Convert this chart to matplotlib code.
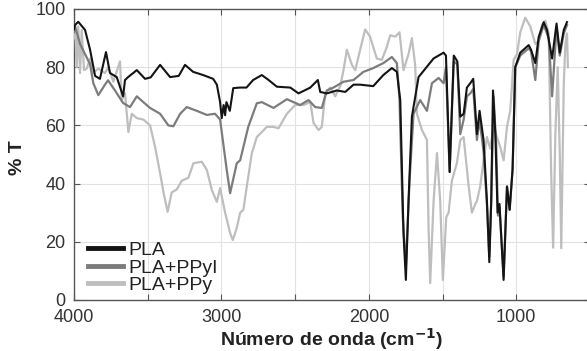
import numpy as np
import matplotlib
matplotlib.use("Agg")
import matplotlib.pyplot as plt
from matplotlib.ticker import MultipleLocator

plt.rcParams["font.family"] = ["Liberation Sans", "DejaVu Sans"]

wn_pla = [4000, 3993, 3971, 3925, 3891, 3857, 3824, 3783, 3756, 3710, 3667, 3654,
          3633, 3574, 3518, 3480, 3416, 3348, 3290, 3247, 3192, 3124, 3056, 3031,
          3009, 2998, 2985, 2975, 2966, 2943, 2920, 2875, 2830, 2785, 2726, 2680,
          2624, 2533, 2477, 2397, 2346, 2330, 2285, 2217, 2160, 2104, 2059, 1970,
          1902, 1844, 1810, 1787, 1765, 1749, 1731, 1708, 1663, 1561, 1493, 1477,
          1452, 1424, 1400, 1380, 1357, 1335, 1312, 1292, 1267, 1249, 1222, 1199,
          1183, 1170, 1158, 1142, 1127, 1114, 1086, 1063, 1045, 1025, 1007, 973,
          916, 900, 871, 848, 814, 791, 757, 727, 705, 678, 656]
t_pla = [93, 94.5, 95.6, 92.8, 86, 77, 76, 85.2, 78, 76.6, 70, 75.6,
         76.6, 79, 76, 76.5, 80.8, 76.6, 77, 80.8, 78.4, 77.3, 76, 74,
         68, 62.5, 67, 63.5, 68, 65, 72.8, 73, 73, 75.6, 77.3, 75.6,
         73.3, 73, 71, 73, 75.6, 71.5, 71, 72, 71.5, 74, 74, 73.5,
         77.3, 79.7, 78.4, 68.7, 23, 6.9, 34, 63, 76.6, 83, 85, 84,
         44, 84, 82, 63, 64, 73, 74.5, 76, 57, 65, 55, 34,
         13, 34, 72, 57, 30, 33, 6.9, 39, 31, 45, 80, 85,
         87.6, 86, 81.4, 90.4, 95.5, 92.7, 83, 95, 85, 92.8, 95.5]

wn_ppyi = [4000, 3993, 3959, 3891, 3869, 3835, 3790, 3769, 3722, 3667, 3620, 3574,
           3530, 3484, 3416, 3360, 3326, 3280, 3235, 3167, 3099, 3043, 3009, 2964,
           2941, 2896, 2873, 2818, 2760, 2726, 2647, 2556, 2466, 2409, 2364, 2319,
           2285, 2240, 2172, 2104, 2037, 1970, 1902, 1844, 1810, 1792, 1770, 1749,
           1724, 1697, 1652, 1606, 1572, 1527, 1493, 1477, 1452, 1424, 1400, 1380,
           1357, 1335, 1312, 1292, 1267, 1249, 1222, 1199, 1183, 1170, 1154, 1136,
           1124, 1114, 1086, 1063, 1045, 1025, 1007, 973, 916, 900, 871, 848,
           814, 780, 757, 727, 705, 678, 656]
t_ppyi = [92, 94, 88, 81, 74.5, 70.4, 74, 75.5, 72, 67.7, 66.3, 70,
          68, 66, 64, 60, 59.7, 64, 66.3, 65, 63.6, 64, 62, 44.7,
          36.7, 47, 48, 59.5, 67.6, 68, 66, 69, 67, 68.7, 66.3, 66,
          72, 73, 75, 75.6, 78.4, 79.7, 81.4, 83.5, 81.4, 68.7, 28.5, 11.4,
          41, 64, 68.7, 65, 74.5, 76.3, 74.5, 80, 44, 82, 81, 57,
          62, 70, 71, 72.5, 55, 62, 51, 32.6, 15, 34, 70, 53,
          29, 32, 8, 39, 31, 45, 80, 84, 86.5, 85.5, 75.6, 89,
          94.5, 90, 70, 93.6, 84, 91.6, 94.5]

wn_ppy = [4000, 3993, 3982, 3971, 3959, 3948, 3932, 3914, 3891, 3873, 3835, 3790,
          3767, 3733, 3688, 3676, 3654, 3631, 3608, 3574, 3529, 3484, 3450, 3416,
          3393, 3365, 3337, 3303, 3269, 3224, 3190, 3133, 3099, 3065, 3031, 3009,
          2975, 2941, 2923, 2896, 2873, 2851, 2828, 2794, 2760, 2726, 2692, 2647,
          2613, 2556, 2500, 2443, 2397, 2375, 2341, 2319, 2296, 2262, 2228, 2194,
          2172, 2149, 2115, 2092, 2059, 2025, 1992, 1946, 1912, 1878, 1855, 1821,
          1792, 1765, 1731, 1708, 1686, 1674, 1640, 1606, 1595, 1584, 1561, 1538,
          1516, 1498, 1475, 1459, 1437, 1403, 1380, 1357, 1323, 1301, 1278, 1267,
          1245, 1222, 1199, 1177, 1154, 1131, 1109, 1086, 1063, 1041, 1018, 995,
          973, 939, 905, 871, 848, 826, 803, 780, 764, 750, 735, 719,
          705, 695, 678, 667, 656, 650]
t_ppy = [90, 94.5, 80, 94, 78, 92.8, 79, 79.5, 83, 78, 79.5, 78,
         80, 75, 82, 68.7, 71, 57.7, 64, 62.5, 62, 60, 52.6, 43.6,
         37, 30.3, 37, 38, 41, 42, 47, 47.5, 44.7, 37.8, 33.7, 38.5,
         30, 23, 20.6, 24.7, 30, 31, 39, 50.4, 56, 57.7, 59.5, 59.5,
         59, 64, 67, 67, 68, 60.8, 58.4, 59.5, 71, 73, 70, 73.5,
         79, 86, 80.8, 79, 86, 93, 90.5, 83, 82.5, 87, 91, 90.5,
         92, 79, 84.5, 90, 80.8, 64, 58.4, 55, 25, 5.8, 34, 50.5,
         34, 6.9, 28.5, 30, 41, 47, 55, 56, 39, 30, 33, 34,
         39, 48, 56, 52, 59.5, 56, 52.6, 48, 59.5, 65, 82.5, 84.5,
         92, 97, 94, 88, 89, 94.5, 96, 91.6, 45, 18, 57, 80,
         50, 17.8, 74, 88, 91.6, 80]

labels = ["PLA", "PLA+PPyI", "PLA+PPy"]
colors = ["#141414", "#7c7c7c", "#bebebe"]

# ── figure ──────────────────────────────────────────────────────────────────
W, H = 587, 351
fig = plt.figure(figsize=(W / 100, H / 100), dpi=100, facecolor="white")
# axes box in pixels: left 74, right ~590 (runs off the image), top 9, bottom 300
ax = fig.add_axes([74 / W, (H - 300) / H, (590 - 74) / W, 291 / H])

ax.plot(wn_ppy, t_ppy, color=colors[2], lw=1.6, label=labels[2], zorder=3)
ax.plot(wn_ppyi, t_ppyi, color=colors[1], lw=1.6, label=labels[1], zorder=4)
ax.plot(wn_pla, t_pla, color=colors[0], lw=1.5, label=labels[0], zorder=5)

ax.set_xlim(4000, 500)
ax.set_ylim(0, 100)
ax.xaxis.set_major_locator(MultipleLocator(1000))
ax.xaxis.set_minor_locator(MultipleLocator(500))
ax.yaxis.set_major_locator(MultipleLocator(20))
ax.grid(True, which="both", axis="x", color="#e2e2e2", lw=0.8, zorder=0)
ax.grid(True, which="major", axis="y", color="#e2e2e2", lw=0.8, zorder=0)
ax.tick_params(which="both", direction="in", top=True, right=True,
               length=4, width=0.8, color="#555555")
ax.tick_params(labelsize=13, labelcolor="#333333")
ax.tick_params(axis="x", pad=6.5)
ax.tick_params(axis="y", pad=6)
for s in ax.spines.values():
    s.set_color("#555555")
    s.set_linewidth(1.0)

handles, labs = ax.get_legend_handles_labels()
order = [2, 1, 0]
leg = ax.legend([handles[i] for i in order], [labs[i] for i in order],
                loc="lower left", bbox_to_anchor=(0.027, 0.02), frameon=False,
                fontsize=14, handlelength=1.8, handletextpad=0.3,
                labelspacing=0.0, borderpad=0, borderaxespad=0)
for ln in leg.get_lines():
    ln.set_linewidth(3.5)
for t in leg.get_texts():
    t.set_color("#222222")

fig.text(332 / W, (H - 346) / H, "Número de onda (cm$^{\\mathbf{-1}}$)",
         ha="center", va="baseline", fontsize=14, fontweight="bold", color="#222222")
fig.text(18 / W, (H - 158) / H, "% T", rotation=90, ha="center", va="center",
         fontsize=14, fontweight="bold", color="#222222")

fig.savefig("out.png", dpi=100, facecolor="white")
